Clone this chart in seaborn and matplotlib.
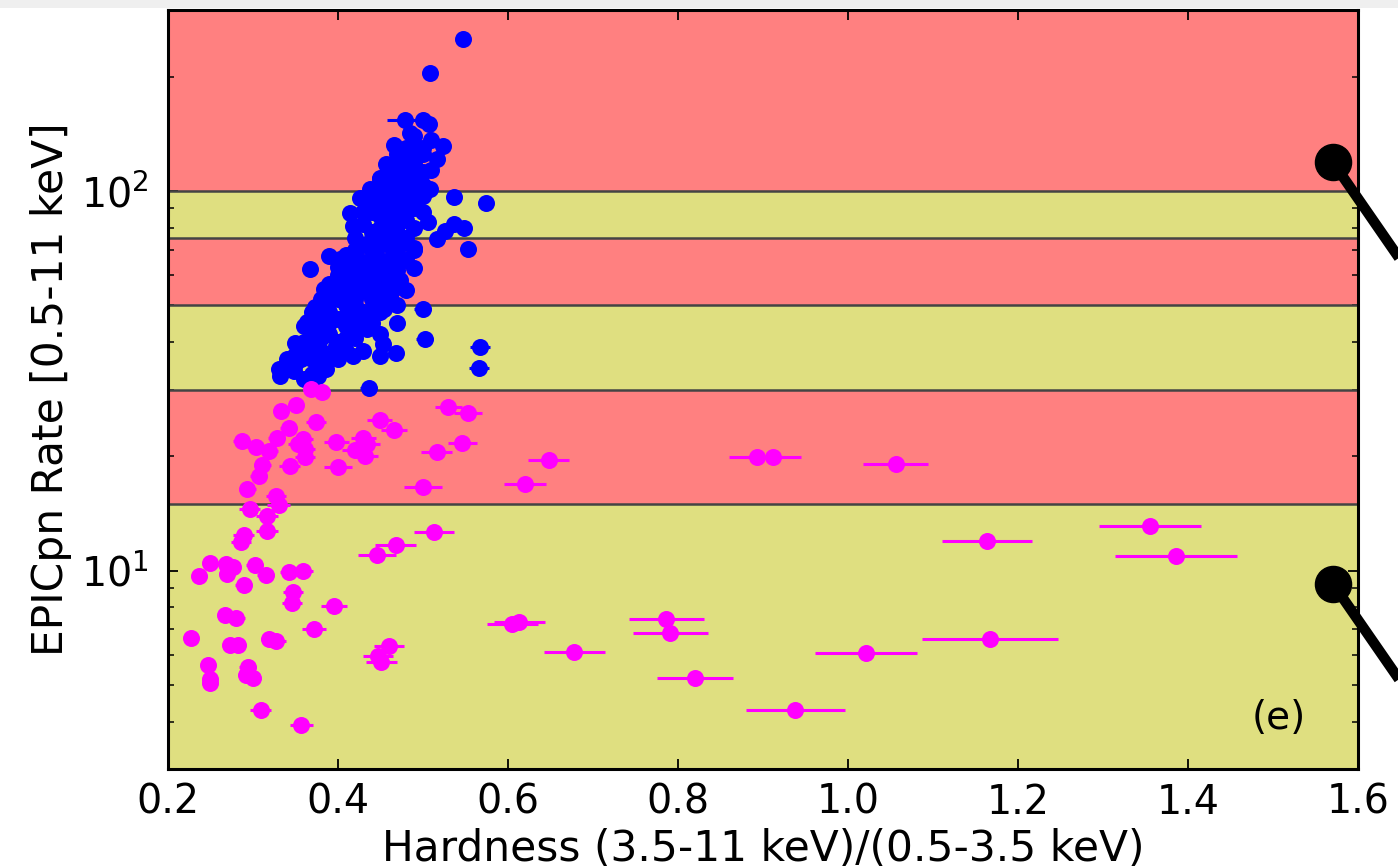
import numpy as np
import pandas as pd
import matplotlib
matplotlib.use("Agg")
import matplotlib.pyplot as plt
import seaborn as sns
from matplotlib.lines import Line2D
from matplotlib.patches import Rectangle
from matplotlib.ticker import FixedLocator, LogLocator, NullFormatter

# ---------------- data ----------------
# blue points, outline of the cloud (with visible / small x errors)
blue_edge_x = [0.547, 0.508, 0.479, 0.500, 0.507, 0.485, 0.466, 0.510, 0.523, 0.516,
               0.509, 0.456, 0.508, 0.537, 0.574, 0.471, 0.493, 0.489, 0.481, 0.449,
               0.438, 0.426, 0.414, 0.506, 0.536, 0.548, 0.516, 0.526, 0.553, 0.489,
               0.473, 0.389, 0.367, 0.489, 0.465, 0.473, 0.461, 0.454, 0.500, 0.502,
               0.567, 0.566, 0.468, 0.453, 0.434, 0.436, 0.332, 0.342, 0.350, 0.363,
               0.373, 0.383, 0.402, 0.418, 0.430, 0.449, 0.398, 0.386, 0.418, 0.424,
               0.455, 0.442, 0.377, 0.357, 0.348]
blue_edge_y = [251.7, 205.0, 153.8, 153.8, 149.8, 142.5, 132.6, 136.7, 131.4, 121.7,
               113.4, 117.5, 101.5, 96.7, 93.2, 121.2, 126.2, 111.8, 107.6, 107.6,
               101.0, 96.0, 87.7, 82.9, 81.7, 80.1, 74.9, 78.5, 70.5, 71.0,
               72.4, 67.4, 62.2, 62.6, 64.1, 58.3, 52.9, 49.0, 48.9, 40.8,
               38.8, 34.1, 37.4, 39.5, 43.3, 30.2, 32.6, 35.8, 39.7, 45.1,
               49.4, 55.1, 66.1, 80.9, 95.1, 36.8, 39.1, 34.0, 36.8, 44.1,
               51.9, 56.2, 32.6, 36.1, 33.6]
blue_edge_xerr = [0.004, 0.004, 0.021, 0.005, 0.005, 0.005, 0.005, 0.005, 0.005, 0.005,
                  0.005, 0.005, 0.005, 0.005, 0.005, 0.005, 0.005, 0.005, 0.005, 0.005,
                  0.005, 0.005, 0.005, 0.005, 0.005, 0.005, 0.005, 0.005, 0.006, 0.005,
                  0.005, 0.005, 0.005, 0.005, 0.005, 0.005, 0.006, 0.006, 0.010, 0.010,
                  0.012, 0.012, 0.007, 0.006, 0.006, 0.010, 0.005, 0.005, 0.005, 0.005,
                  0.005, 0.005, 0.005, 0.005, 0.005, 0.008, 0.006, 0.006, 0.006, 0.006,
                  0.006, 0.006, 0.005, 0.005, 0.005]
# blue points inside the dense cloud (errors hidden under the markers)
blue_core_x = [0.36, 0.37, 0.38, 0.39, 0.40, 0.41, 0.42, 0.43, 0.44, 0.45, 0.46, 0.47, 0.48, 0.49, 0.50,
               0.39, 0.40, 0.41, 0.42, 0.43, 0.44, 0.45, 0.46, 0.47, 0.48, 0.49, 0.50,
               0.37, 0.38, 0.35, 0.41, 0.43, 0.45, 0.47, 0.49, 0.40, 0.42, 0.44, 0.46, 0.48,
               0.44, 0.45, 0.46, 0.47, 0.48, 0.42, 0.43, 0.41, 0.40, 0.39, 0.38, 0.37,
               0.44, 0.46, 0.47, 0.48, 0.49, 0.45, 0.50, 0.43, 0.44, 0.45, 0.46, 0.47, 0.49,
               0.36, 0.34, 0.40, 0.43, 0.44, 0.47, 0.48, 0.46, 0.42, 0.41, 0.39, 0.45, 0.47,
               0.38, 0.39, 0.41, 0.42, 0.43, 0.44, 0.45, 0.46, 0.47, 0.48, 0.49, 0.50,
               0.43, 0.44, 0.45, 0.46, 0.47, 0.48, 0.49, 0.50, 0.42, 0.41, 0.40, 0.39,
               0.38, 0.36, 0.37, 0.35, 0.34, 0.33, 0.45, 0.46, 0.47, 0.48, 0.49, 0.48,
               0.47, 0.46, 0.44, 0.43, 0.42, 0.41, 0.40, 0.44, 0.45, 0.50, 0.49, 0.46,
               0.41, 0.42, 0.44, 0.45, 0.46, 0.47, 0.43, 0.42, 0.41, 0.38, 0.37, 0.36]
blue_core_y = [38, 42, 45, 48, 52, 56, 60, 65, 70, 76, 82, 88, 95, 103, 112,
               42, 46, 50, 54, 58, 62, 66, 72, 78, 84, 90, 97,
               36, 38, 35, 44, 48, 55, 62, 70, 40, 46, 52, 58, 66,
               88, 95, 100, 105, 115, 75, 82, 68, 60, 57, 52, 48,
               100, 112, 125, 130, 140, 108, 125, 72, 78, 86, 92, 98, 118,
               40, 34, 36, 38, 45, 50, 55, 66, 50, 38, 36, 42, 45,
               41, 45, 47, 52, 55, 58, 61, 64, 70, 75, 80, 88,
               62, 66, 72, 76, 82, 88, 95, 104, 64, 60, 56, 52,
               48, 44, 39, 37, 36, 34, 80, 86, 93, 100, 108, 120,
               115, 105, 92, 88, 70, 64, 63, 75, 100, 130, 128, 95,
               52, 57, 48, 48, 52, 56, 44, 41, 41, 35, 33, 32]

# magenta points
mag_x = [0.368, 0.381, 0.351, 0.333, 0.374, 0.449, 0.466, 0.530, 0.553, 0.342,
         0.328, 0.287, 0.303, 0.319, 0.359, 0.353, 0.361, 0.361, 0.398, 0.430,
         0.434, 0.420, 0.432, 0.546, 0.516, 0.311, 0.343, 0.400, 0.307, 0.293,
         0.327, 0.330, 0.500, 0.296, 0.316, 0.316, 0.289, 0.286, 0.513, 0.468,
         0.446, 0.648, 0.620, 0.893, 0.912, 1.056, 1.355, 1.163, 1.386, 0.786,
         0.791, 0.820, 0.938, 1.021, 1.167, 0.605, 0.613, 0.678, 0.249, 0.236,
         0.268, 0.277, 0.270, 0.302, 0.315, 0.342, 0.359, 0.289, 0.347, 0.346,
         0.395, 0.267, 0.280, 0.372, 0.227, 0.273, 0.282, 0.319, 0.327, 0.460,
         0.447, 0.451, 0.247, 0.294, 0.292, 0.300, 0.249, 0.249, 0.309, 0.357]
mag_y = [30.1, 29.5, 27.3, 26.3, 24.6, 24.9, 23.5, 26.9, 26.0, 23.8,
         22.4, 21.9, 21.2, 20.7, 22.2, 21.6, 20.9, 19.9, 21.8, 22.4,
         21.6, 20.8, 20.1, 21.7, 20.5, 19.0, 18.9, 18.8, 17.7, 16.4,
         15.7, 14.9, 16.6, 14.5, 13.9, 12.7, 12.4, 11.9, 12.6, 11.7,
         11.0, 19.6, 16.9, 19.9, 19.9, 19.1, 13.1, 12.0, 10.9, 7.46,
         6.84, 5.21, 4.30, 6.07, 6.61, 7.24, 7.30, 6.10, 10.5, 9.7,
         10.4, 10.2, 9.8, 10.35, 9.76, 9.9, 9.95, 9.18, 8.77, 8.22,
         8.08, 7.63, 7.5, 7.0, 6.65, 6.36, 6.38, 6.6, 6.51, 6.33,
         5.96, 5.73, 5.65, 5.57, 5.3, 5.21, 5.17, 5.07, 4.29, 3.91]
mag_xerr = [0.008, 0.008, 0.008, 0.008, 0.012, 0.015, 0.015, 0.016, 0.016, 0.010,
            0.010, 0.010, 0.010, 0.010, 0.012, 0.012, 0.012, 0.012, 0.015, 0.015,
            0.015, 0.015, 0.015, 0.017, 0.018, 0.010, 0.012, 0.016, 0.010, 0.010,
            0.012, 0.014, 0.022, 0.012, 0.013, 0.013, 0.012, 0.012, 0.023, 0.024,
            0.022, 0.024, 0.025, 0.033, 0.033, 0.038, 0.060, 0.053, 0.072, 0.044,
            0.044, 0.045, 0.058, 0.060, 0.080, 0.030, 0.030, 0.036, 0.008, 0.006,
            0.008, 0.008, 0.008, 0.010, 0.010, 0.010, 0.012, 0.010, 0.012, 0.012,
            0.015, 0.008, 0.010, 0.014, 0.006, 0.008, 0.010, 0.010, 0.012, 0.018,
            0.018, 0.018, 0.008, 0.010, 0.010, 0.010, 0.008, 0.008, 0.012, 0.014]

# rate bands
band_edges = [3, 15, 30, 50, 75, 100, 300]
band_colors = ['#dfdf80', '#ff8080', '#dfdf80', '#ff8080', '#dfdf80', '#ff8080']

# connector anchors (hardness, rate)
conn_x = [1.5706, 1.5706]
conn_y = [119.0, 9.23]

x_ticks = [0.2, 0.4, 0.6, 0.8, 1.0, 1.2, 1.4, 1.6]
x_tick_labels = ['0.2', '0.4', '0.6', '0.8', '1.0', '1.2', '1.4', '1.6']
panel_label = '(e)'
x_label = 'Hardness (3.5-11 keV)/(0.5-3.5 keV)'
y_label = 'EPICpn Rate [0.5-11 keV]'

# ---------------- plotting ----------------
sns.set_style("ticks")
plt.rcParams['font.family'] = ['DejaVu Sans']
plt.rcParams['mathtext.fontset'] = 'dejavusans'
plt.rcParams['text.color'] = 'black'
plt.rcParams['axes.labelcolor'] = 'black'
plt.rcParams['xtick.color'] = 'black'
plt.rcParams['ytick.color'] = 'black'
plt.rcParams['xtick.labelcolor'] = 'black'
plt.rcParams['ytick.labelcolor'] = 'black'

W, H = 1398, 868
fig = plt.figure(figsize=(W / 100, H / 100), dpi=100)
fig.patch.set_facecolor('white')
fig.add_artist(Rectangle((0, 1 - 8 / H), 1, 8 / H, transform=fig.transFigure,
                         facecolor='#efefef', edgecolor='none', zorder=-5))
ax = fig.add_axes([168 / W, 1 - 769 / H, 1190 / W, 759 / H])
ax.set_yscale('log')
ax.set_xlim(0.2, 1.6)
ax.set_ylim(3, 300)

for lo, hi, c in zip(band_edges[:-1], band_edges[1:], band_colors):
    ax.axhspan(lo, hi, facecolor=c, edgecolor='none', zorder=0)
for b in band_edges[1:-1]:
    ax.axhline(b, color='#444444', lw=1.8, zorder=1)

blue_edge = pd.DataFrame({'x': blue_edge_x, 'y': blue_edge_y, 'xerr': blue_edge_xerr})
blue_core = pd.DataFrame({'x': blue_core_x, 'y': blue_core_y})
mag = pd.DataFrame({'x': mag_x, 'y': mag_y, 'xerr': mag_xerr})

ms = 150
ax.errorbar(blue_edge['x'], blue_edge['y'], xerr=blue_edge['xerr'], fmt='none',
            ecolor='#0000ff', elinewidth=2.2, capsize=0, zorder=3)
sns.scatterplot(data=blue_core, x='x', y='y', ax=ax, color='#0000ff', s=ms,
                linewidth=0, zorder=4, legend=False)
sns.scatterplot(data=blue_edge, x='x', y='y', ax=ax, color='#0000ff', s=ms,
                linewidth=0, zorder=4, legend=False)
ax.errorbar(mag['x'], mag['y'], xerr=mag['xerr'], fmt='none',
            ecolor='#ff00ff', elinewidth=2.2, capsize=0, zorder=5)
sns.scatterplot(data=mag, x='x', y='y', ax=ax, color='#ff00ff', s=ms,
                linewidth=0, zorder=6, legend=False)

ax.set_xlim(0.2, 1.6)
ax.set_ylim(3, 300)

# axes styling
for sp in ax.spines.values():
    sp.set_linewidth(2.2)
    sp.set_color('black')
    sp.set_zorder(8)
ax.xaxis.set_major_locator(FixedLocator(x_ticks))
ax.set_xticklabels(x_tick_labels)
ax.yaxis.set_major_locator(LogLocator(base=10, numticks=10))
ax.yaxis.set_minor_locator(LogLocator(base=10, subs=np.arange(2, 10), numticks=20))
ax.yaxis.set_minor_formatter(NullFormatter())
ax.tick_params(which='both', direction='in', top=True, right=True, zorder=9)
ax.tick_params(which='major', length=7, width=1.3, labelsize=28.5, color='black',
               labelcolor='black')
ax.tick_params(which='minor', length=4, width=1.1, color='black')
ax.tick_params(axis='x', which='major', pad=10)
ax.tick_params(axis='y', which='major', pad=14)
ax.set_xlabel(x_label, fontsize=30.5, labelpad=4, color='black')
ax.set_ylabel(y_label, fontsize=30.5, labelpad=6, color='black')

ax.text(0.933, 0.067, panel_label, transform=ax.transAxes, fontsize=28,
        ha='center', va='center', zorder=9, color='black')

# connector lines leaving the panel towards the lower right
inv = fig.transFigure.inverted()
for cx, cy in zip(conn_x, conn_y):
    px, py = ax.transData.transform((cx, cy))
    f0 = inv.transform((px, py))
    f1 = inv.transform((px + 300, py - 434))
    fig.add_artist(Line2D([f0[0], f1[0]], [f0[1], f1[1]], color='black', lw=7.5,
                          solid_capstyle='butt', transform=fig.transFigure, zorder=10))
ax.plot(conn_x, conn_y, 'o', ms=26, color='black', clip_on=False, zorder=11)

fig.savefig('out.png', dpi=100)
